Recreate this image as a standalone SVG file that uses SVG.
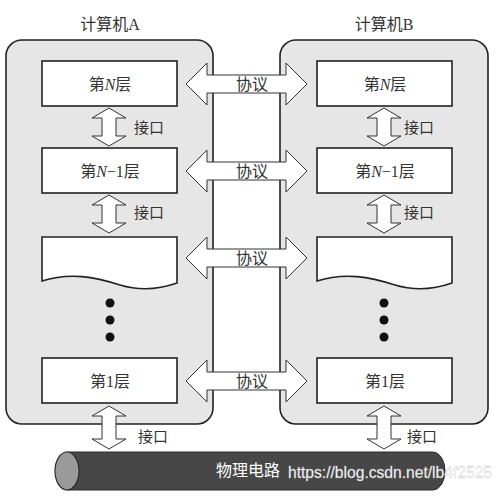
<svg xmlns="http://www.w3.org/2000/svg" width="504" height="498" viewBox="0 0 504 498">
<style>
.comp{fill:#e6e6e6;stroke:#222;stroke-width:1.6}
.layer{fill:#fff;stroke:#222;stroke-width:1.6}
.arr{fill:#fff;stroke:#333;stroke-width:1}
.t{font-family:"Liberation Serif","Noto Sans CJK SC",serif;font-size:16px;fill:#333;text-anchor:middle;dominant-baseline:central}
.l{font-family:"Liberation Serif","Noto Sans CJK SC",serif;font-size:15px;fill:#333;dominant-baseline:central}
.dot{fill:#111}
</style>
<rect width="504" height="498" fill="#fff"/>
<g id="computerA">
<rect class="comp" x="6" y="40" width="207" height="384" rx="16"/>
<text class="t" x="110" y="24">计算机A</text>
</g>
<g id="computerB">
<rect class="comp" x="280" y="40" width="208" height="384" rx="16"/>
<text class="t" x="384" y="24">计算机B</text>
</g>
<g id="A_layerN"><rect class="layer" x="42" y="61" width="135" height="45"/><text class="t" x="110" y="84">第<tspan font-style="italic">N</tspan>层</text></g>
<g id="A_layerN1"><rect class="layer" x="42" y="148" width="135" height="45"/><text class="t" x="110" y="171">第<tspan font-style="italic">N</tspan>−1层</text></g>
<g id="A_layerX"><path class="layer" d="M42,237 H177 V283 C160,289 140,291 120,285 C95,277 70,272 42,281 Z"/></g>
<g id="A_dots"><circle class="dot" cx="110" cy="303" r="4.5"/><circle class="dot" cx="110" cy="320" r="4.5"/><circle class="dot" cx="110" cy="337" r="4.5"/></g>
<g id="A_layer1"><rect class="layer" x="42" y="358" width="135" height="45"/><text class="t" x="110" y="381">第1层</text></g>
<g id="B_layerN"><rect class="layer" x="317" y="61" width="135" height="45"/><text class="t" x="385" y="84">第<tspan font-style="italic">N</tspan>层</text></g>
<g id="B_layerN1"><rect class="layer" x="317" y="148" width="135" height="45"/><text class="t" x="385" y="171">第<tspan font-style="italic">N</tspan>−1层</text></g>
<g id="B_layerX"><path class="layer" d="M317,237 H452 V283 C435,289 415,291 395,285 C370,277 345,272 317,281 Z"/></g>
<g id="B_dots"><circle class="dot" cx="384" cy="303" r="4.5"/><circle class="dot" cx="384" cy="320" r="4.5"/><circle class="dot" cx="384" cy="337" r="4.5"/></g>
<g id="B_layer1"><rect class="layer" x="317" y="358" width="135" height="45"/><text class="t" x="385" y="381">第1层</text></g>
<g id="cable">
<path d="M67,452 H433 A12,19 0 0 1 433,490 H67 Z" fill="#474747" stroke="#2a2a2a" stroke-width="1"/>
<ellipse cx="67" cy="471" rx="12" ry="19" fill="#9a9a9a" stroke="#2a2a2a" stroke-width="1.2"/>
<text class="t" x="248" y="470" style="fill:#fff">物理电路</text>
</g>
<g id="connectors">
<path class="arr" d="M186,84 L207,63 L207,75 L286,75 L286,63 L307,84 L286,105 L286,93 L207,93 L207,105 Z"/>
<path class="arr" d="M186,171 L207,150 L207,162 L286,162 L286,150 L307,171 L286,192 L286,180 L207,180 L207,192 Z"/>
<path class="arr" d="M186,258 L207,237 L207,249 L286,249 L286,237 L307,258 L286,279 L286,267 L207,267 L207,279 Z"/>
<path class="arr" d="M186,381 L207,360 L207,372 L286,372 L286,360 L307,381 L286,402 L286,390 L207,390 L207,402 Z"/>
<path class="arr" d="M109,108 L126,118 L116,118 L116,136 L126,136 L109,146 L92,136 L102,136 L102,118 L92,118 Z"/>
<path class="arr" d="M109,195 L126,205 L116,205 L116,223 L126,223 L109,233 L92,223 L102,223 L102,205 L92,205 Z"/>
<path class="arr" d="M109,406 L126,416 L116,416 L116,439 L126,439 L109,449 L92,439 L102,439 L102,416 L92,416 Z"/>
<path class="arr" d="M384,108 L401,118 L391,118 L391,136 L401,136 L384,146 L367,136 L377,136 L377,118 L367,118 Z"/>
<path class="arr" d="M384,195 L401,205 L391,205 L391,223 L401,223 L384,233 L367,223 L377,223 L377,205 L367,205 Z"/>
<path class="arr" d="M384,406 L401,416 L391,416 L391,439 L401,439 L384,449 L367,439 L377,439 L377,416 L367,416 Z"/>
<text class="t" x="252" y="84">协议</text>
<text class="t" x="252" y="171">协议</text>
<text class="t" x="252" y="258">协议</text>
<text class="t" x="252" y="381">协议</text>
<text class="l" x="134" y="128">接口</text>
<text class="l" x="134" y="213">接口</text>
<text class="l" x="138" y="437">接口</text>
<text class="l" x="404" y="128">接口</text>
<text class="l" x="404" y="213">接口</text>
<text class="l" x="407" y="437">接口</text>
</g>
<text x="288" y="478" font-family="Liberation Sans, sans-serif" font-size="16" textLength="204" lengthAdjust="spacingAndGlyphs" fill="#fff" stroke="#bbb" stroke-width="0.3">https://blog.csdn.net/lb4f2525</text>
</svg>
